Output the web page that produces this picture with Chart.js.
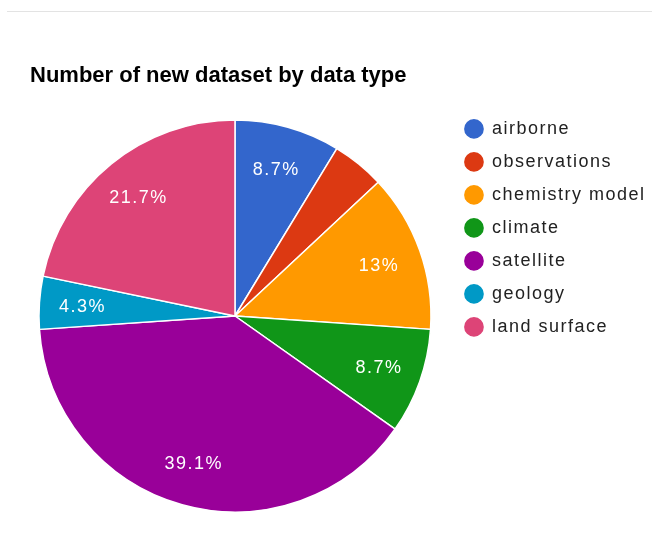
<!DOCTYPE html>
<html lang="en">
<head>
    <meta charset="UTF-8">
    <title>Number of new dataset by data type</title>
    <script src="https://cdn.jsdelivr.net/npm/chart.js"></script>
    <style>
        body {
            margin: 0;
            padding: 0;
            background-color: #ffffff;
        }
        .frame {
            position: relative;
            width: 652px;
            height: 542px;
        }
        .rule {
            position: absolute;
            left: 7px;
            right: 0;
            top: 11px;
            border-top: 1px solid #e3e3e3;
        }
        canvas#typeChart {
            position: absolute;
            left: 0;
            top: 0;
        }
    </style>
</head>
<body>
    <div class="frame">
        <div class="rule"></div>
        <canvas id="typeChart" width="652" height="542"></canvas>
    </div>

    <script>
        const dataTypes = ['airborne', 'observations', 'chemistry model', 'climate', 'satellite', 'geology', 'land surface'];
        const newDatasets = [2, 1, 3, 2, 9, 1, 5];
        const sliceColors = ['#3366cc', '#dc3912', '#ff9900', '#109618', '#990099', '#0099c6', '#dd4477'];

        const FONT = "'Liberation Sans', Arial, sans-serif";
        const SPACING = '1.5px';

        // percentage text like 8.7%, 13%, 39.1%
        function pctText(value, total) {
            return Number((value / total * 100).toFixed(1)) + '%';
        }

        // title is drawn tight, legend and slice labels a bit spread out
        const typeTweaks = {
            id: 'typeTweaks',
            afterInit(chart) {
                const title = chart.titleBlock;
                if (!title) return;
                const drawTitle = title.draw.bind(title);
                title.draw = (area) => {
                    chart.ctx.letterSpacing = '0px';
                    drawTitle(area);
                    chart.ctx.letterSpacing = SPACING;
                };
            },
            beforeLayout(chart) {
                // legend width is measured with the same spacing it is drawn with
                chart.ctx.letterSpacing = SPACING;
            },
            afterLayout(chart) {
                if (chart.titleBlock) {
                    chart.titleBlock.left += 10;
                    chart.titleBlock.right += 10;
                }
            },
            beforeDraw(chart) {
                chart.ctx.letterSpacing = SPACING;
            },
            afterDraw(chart) {
                chart.ctx.letterSpacing = '0px';
            }
        };

        // white percentage inside each slice, skipped when it does not fit
        const sliceLabels = {
            id: 'sliceLabels',
            afterDatasetsDraw(chart) {
                const ctx = chart.ctx;
                const meta = chart.getDatasetMeta(0);
                const values = chart.data.datasets[0].data;
                const total = values.reduce((a, b) => a + b, 0);
                ctx.save();
                ctx.letterSpacing = SPACING;
                ctx.font = '18px ' + FONT;
                ctx.fillStyle = '#ffffff';
                ctx.textAlign = 'center';
                ctx.textBaseline = 'middle';
                meta.data.forEach((arc, i) => {
                    const p = arc.getProps(['x', 'y', 'startAngle', 'endAngle', 'outerRadius']);
                    const mid = (p.startAngle + p.endAngle) / 2;
                    const r = p.outerRadius * 0.78;
                    const x = p.x + Math.cos(mid) * r;
                    const y = p.y + Math.sin(mid) * r;
                    const text = pctText(values[i], total);
                    const w = ctx.measureText(text).width / 2;
                    const h = 7;
                    const corners = [[x - w, y - h], [x + w, y - h], [x - w, y + h], [x + w, y + h]];
                    if (!corners.every(c => arc.inRange(c[0], c[1]))) return;
                    ctx.fillText(text, x, y + 1);
                });
                ctx.restore();
            }
        };

        const ctx = document.getElementById('typeChart').getContext('2d');

        const typeChart = new Chart(ctx, {
            type: 'pie',
            data: {
                labels: dataTypes,
                datasets: [{
                    data: newDatasets,
                    backgroundColor: sliceColors,
                    borderColor: '#ffffff',
                    borderWidth: 1.5,
                    radius: 196
                }]
            },
            options: {
                responsive: false,
                animation: false,
                layout: {
                    padding: { left: 20, right: -3.5, top: 0, bottom: 14.9 }
                },
                plugins: {
                    title: {
                        display: true,
                        text: 'Number of new dataset by data type',
                        align: 'start',
                        color: '#000000',
                        font: { family: FONT, size: 22, weight: 'bold' },
                        padding: { top: 62.5, bottom: 16 }
                    },
                    legend: {
                        position: 'right',
                        align: 'start',
                        fullSize: false,
                        labels: {
                            usePointStyle: true,
                            pointStyle: 'circle',
                            boxHeight: 15,
                            padding: 15,
                            color: '#222222',
                            font: { family: FONT, size: 18 }
                        }
                    },
                    tooltip: { enabled: false }
                }
            },
            plugins: [typeTweaks, sliceLabels]
        });
    </script>
</body>
</html>
